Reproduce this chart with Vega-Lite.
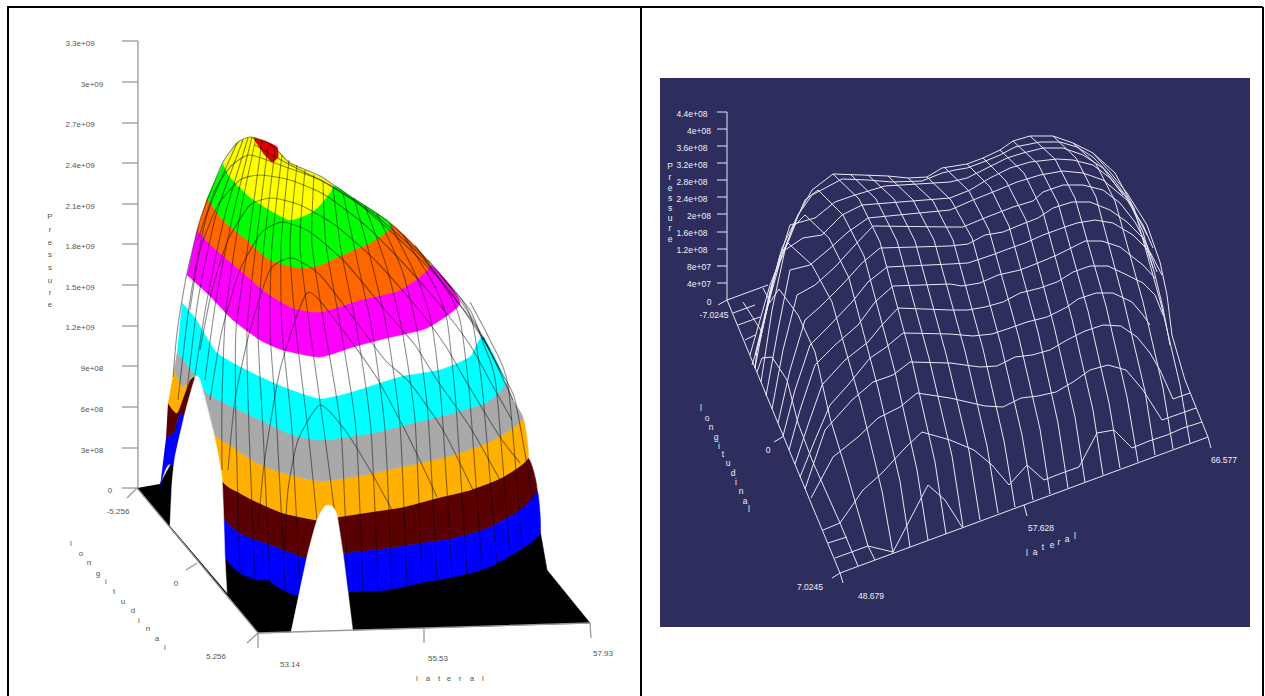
{"$schema":"https://vega.github.io/schema/vega-lite/v6.json","width":1265,"height":696,"padding":0,"autosize":{"type":"none"},"background":"white","config":{"view":{"stroke":null}},
"datasets":{
"panel":[{"h":660,"h2":1250,"v":78,"v2":627}],
"polys":[
{"b":"blue","h":160,"v":487},{"b":"blue","h":172,"v":465},{"b":"blue","h":225,"v":557},{"b":"blue","h":240,"v":573},{"b":"blue","h":257,"v":580},{"b":"blue","h":267,"v":580},{"b":"blue","h":283,"v":590},{"b":"blue","h":298,"v":595},{"b":"blue","h":348,"v":592},{"b":"blue","h":387,"v":590},{"b":"blue","h":420,"v":583},{"b":"blue","h":453,"v":577},{"b":"blue","h":487,"v":568},{"b":"blue","h":520,"v":550},{"b":"blue","h":540,"v":533},{"b":"blue","h":537,"v":490},{"b":"blue","h":520,"v":510},{"b":"blue","h":487,"v":528},{"b":"blue","h":453,"v":538},{"b":"blue","h":420,"v":543},{"b":"blue","h":387,"v":548},{"b":"blue","h":344,"v":553},{"b":"blue","h":305,"v":557},{"b":"blue","h":277,"v":547},{"b":"blue","h":257,"v":540},{"b":"blue","h":240,"v":533},{"b":"blue","h":222,"v":515},{"b":"blue","h":183,"v":415},{"b":"blue","h":174,"v":432},{"b":"blue","h":166,"v":438},
{"b":"maroon","h":166,"v":438},{"b":"maroon","h":174,"v":432},{"b":"maroon","h":183,"v":415},{"b":"maroon","h":222,"v":515},{"b":"maroon","h":240,"v":533},{"b":"maroon","h":257,"v":540},{"b":"maroon","h":277,"v":547},{"b":"maroon","h":305,"v":557},{"b":"maroon","h":344,"v":553},{"b":"maroon","h":387,"v":548},{"b":"maroon","h":420,"v":543},{"b":"maroon","h":453,"v":538},{"b":"maroon","h":487,"v":528},{"b":"maroon","h":520,"v":510},{"b":"maroon","h":537,"v":490},{"b":"maroon","h":528,"v":458},{"b":"maroon","h":503,"v":477},{"b":"maroon","h":470,"v":490},{"b":"maroon","h":437,"v":498},{"b":"maroon","h":403,"v":507},{"b":"maroon","h":370,"v":512},{"b":"maroon","h":338,"v":517},{"b":"maroon","h":317,"v":520},{"b":"maroon","h":283,"v":513},{"b":"maroon","h":257,"v":502},{"b":"maroon","h":240,"v":493},{"b":"maroon","h":220,"v":477},{"b":"maroon","h":195,"v":378},{"b":"maroon","h":186,"v":390},{"b":"maroon","h":177,"v":413},{"b":"maroon","h":168,"v":403},
{"b":"amber","h":168,"v":403},{"b":"amber","h":177,"v":413},{"b":"amber","h":186,"v":390},{"b":"amber","h":195,"v":378},{"b":"amber","h":220,"v":477},{"b":"amber","h":240,"v":493},{"b":"amber","h":257,"v":502},{"b":"amber","h":283,"v":513},{"b":"amber","h":317,"v":520},{"b":"amber","h":338,"v":517},{"b":"amber","h":370,"v":512},{"b":"amber","h":403,"v":507},{"b":"amber","h":437,"v":498},{"b":"amber","h":470,"v":490},{"b":"amber","h":503,"v":477},{"b":"amber","h":528,"v":458},{"b":"amber","h":523,"v":418},{"b":"amber","h":510,"v":430},{"b":"amber","h":487,"v":443},{"b":"amber","h":453,"v":455},{"b":"amber","h":420,"v":463},{"b":"amber","h":387,"v":470},{"b":"amber","h":353,"v":477},{"b":"amber","h":320,"v":481},{"b":"amber","h":283,"v":473},{"b":"amber","h":257,"v":463},{"b":"amber","h":233,"v":447},{"b":"amber","h":213,"v":432},{"b":"amber","h":196,"v":377},{"b":"amber","h":183,"v":387},{"b":"amber","h":174,"v":370},
{"b":"grey","h":174,"v":370},{"b":"grey","h":183,"v":387},{"b":"grey","h":196,"v":377},{"b":"grey","h":213,"v":432},{"b":"grey","h":233,"v":447},{"b":"grey","h":257,"v":463},{"b":"grey","h":283,"v":473},{"b":"grey","h":320,"v":481},{"b":"grey","h":353,"v":477},{"b":"grey","h":387,"v":470},{"b":"grey","h":420,"v":463},{"b":"grey","h":453,"v":455},{"b":"grey","h":487,"v":443},{"b":"grey","h":510,"v":430},{"b":"grey","h":523,"v":418},{"b":"grey","h":513,"v":400},{"b":"grey","h":505,"v":382},{"b":"grey","h":487,"v":402},{"b":"grey","h":453,"v":413},{"b":"grey","h":413,"v":423},{"b":"grey","h":377,"v":432},{"b":"grey","h":347,"v":437},{"b":"grey","h":320,"v":440},{"b":"grey","h":293,"v":435},{"b":"grey","h":267,"v":423},{"b":"grey","h":233,"v":407},{"b":"grey","h":207,"v":393},{"b":"grey","h":197,"v":378},{"b":"grey","h":190,"v":368},{"b":"grey","h":177,"v":352},
{"b":"cyan","h":177,"v":352},{"b":"cyan","h":190,"v":368},{"b":"cyan","h":197,"v":378},{"b":"cyan","h":207,"v":393},{"b":"cyan","h":233,"v":407},{"b":"cyan","h":267,"v":423},{"b":"cyan","h":293,"v":435},{"b":"cyan","h":320,"v":440},{"b":"cyan","h":347,"v":437},{"b":"cyan","h":377,"v":432},{"b":"cyan","h":413,"v":423},{"b":"cyan","h":453,"v":413},{"b":"cyan","h":487,"v":402},{"b":"cyan","h":505,"v":382},{"b":"cyan","h":483,"v":337},{"b":"cyan","h":470,"v":357},{"b":"cyan","h":440,"v":370},{"b":"cyan","h":400,"v":377},{"b":"cyan","h":353,"v":392},{"b":"cyan","h":320,"v":399},{"b":"cyan","h":283,"v":387},{"b":"cyan","h":250,"v":372},{"b":"cyan","h":217,"v":353},{"b":"cyan","h":195,"v":318},{"b":"cyan","h":182,"v":303},
{"b":"magenta","h":187,"v":275},{"b":"magenta","h":207,"v":293},{"b":"magenta","h":233,"v":320},{"b":"magenta","h":260,"v":340},{"b":"magenta","h":283,"v":350},{"b":"magenta","h":320,"v":357},{"b":"magenta","h":353,"v":347},{"b":"magenta","h":387,"v":338},{"b":"magenta","h":427,"v":328},{"b":"magenta","h":460,"v":303},{"b":"magenta","h":430,"v":265},{"b":"magenta","h":400,"v":290},{"b":"magenta","h":360,"v":300},{"b":"magenta","h":320,"v":312},{"b":"magenta","h":293,"v":308},{"b":"magenta","h":267,"v":293},{"b":"magenta","h":240,"v":270},{"b":"magenta","h":213,"v":247},{"b":"magenta","h":197,"v":230},
{"b":"dorange","h":197,"v":230},{"b":"dorange","h":213,"v":247},{"b":"dorange","h":240,"v":270},{"b":"dorange","h":267,"v":293},{"b":"dorange","h":293,"v":308},{"b":"dorange","h":320,"v":312},{"b":"dorange","h":360,"v":300},{"b":"dorange","h":400,"v":290},{"b":"dorange","h":430,"v":265},{"b":"dorange","h":392,"v":225},{"b":"dorange","h":370,"v":243},{"b":"dorange","h":353,"v":250},{"b":"dorange","h":320,"v":265},{"b":"dorange","h":300,"v":268},{"b":"dorange","h":270,"v":260},{"b":"dorange","h":247,"v":240},{"b":"dorange","h":223,"v":220},{"b":"dorange","h":207,"v":198},
{"b":"green","h":207,"v":198},{"b":"green","h":223,"v":220},{"b":"green","h":247,"v":240},{"b":"green","h":270,"v":260},{"b":"green","h":300,"v":268},{"b":"green","h":320,"v":265},{"b":"green","h":353,"v":250},{"b":"green","h":370,"v":243},{"b":"green","h":392,"v":225},{"b":"green","h":353,"v":198},{"b":"green","h":333,"v":186},{"b":"green","h":320,"v":205},{"b":"green","h":310,"v":213},{"b":"green","h":290,"v":220},{"b":"green","h":270,"v":210},{"b":"green","h":250,"v":197},{"b":"green","h":230,"v":177},{"b":"green","h":223,"v":163},
{"b":"yellow","h":223,"v":163},{"b":"yellow","h":230,"v":177},{"b":"yellow","h":250,"v":197},{"b":"yellow","h":270,"v":210},{"b":"yellow","h":290,"v":220},{"b":"yellow","h":310,"v":213},{"b":"yellow","h":320,"v":205},{"b":"yellow","h":333,"v":187},{"b":"yellow","h":320,"v":177},{"b":"yellow","h":290,"v":163},{"b":"yellow","h":280,"v":153},{"b":"yellow","h":267,"v":142},{"b":"yellow","h":250,"v":137},{"b":"yellow","h":237,"v":143},
{"b":"red","h":253,"v":138},{"b":"red","h":267,"v":142},{"b":"red","h":277,"v":147},{"b":"red","h":278,"v":157},{"b":"red","h":272,"v":162},{"b":"red","h":263,"v":153}
],
"baseBlack":[
{"b":"black","h":137,"v":488},{"b":"black","h":258,"v":633},{"b":"black","h":590,"v":623},{"b":"black","h":547,"v":570},{"b":"black","h":540,"v":530},{"b":"black","h":520,"v":547},{"b":"black","h":487,"v":565},{"b":"black","h":453,"v":574},{"b":"black","h":420,"v":580},{"b":"black","h":387,"v":587},{"b":"black","h":348,"v":589},{"b":"black","h":298,"v":592},{"b":"black","h":283,"v":587},{"b":"black","h":267,"v":577},{"b":"black","h":257,"v":577},{"b":"black","h":240,"v":570},{"b":"black","h":225,"v":554},{"b":"black","h":172,"v":462},{"b":"black","h":160,"v":484}
],
"gaps":[
{"b":"g1","h":170,"v":526},{"b":"g1","h":172,"v":483},{"b":"g1","h":175,"v":457},{"b":"g1","h":185,"v":413},{"b":"g1","h":195,"v":378},{"b":"g1","h":200,"v":380},{"b":"g1","h":213,"v":430},{"b":"g1","h":222,"v":478},{"b":"g1","h":225,"v":557},{"b":"g1","h":227,"v":593},
{"b":"g2","h":291,"v":633},{"b":"g2","h":307,"v":557},{"b":"g2","h":317,"v":520},{"b":"g2","h":325,"v":506},{"b":"g2","h":332,"v":506},{"b":"g2","h":337,"v":515},{"b":"g2","h":343,"v":553},{"b":"g2","h":348,"v":592},{"b":"g2","h":353,"v":632}
],
"wiresL":[
{"w":"s1","h":178,"v":400},{"w":"s1","h":190,"v":300},{"w":"s1","h":207,"v":215},{"w":"s1","h":237,"v":143},
{"w":"s2","h":186,"v":400},{"w":"s2","h":198,"v":300},{"w":"s2","h":216,"v":215},{"w":"s2","h":243,"v":140},
{"w":"s3","h":195,"v":375},{"w":"s3","h":207,"v":300},{"w":"s3","h":225,"v":215},{"w":"s3","h":248,"v":138},
{"w":"s4","h":205,"v":380},{"w":"s4","h":216,"v":300},{"w":"s4","h":233,"v":215},{"w":"s4","h":252,"v":137},
{"w":"s5","h":222,"v":470},{"w":"s5","h":222,"v":400},{"w":"s5","h":226,"v":310},{"w":"s5","h":240,"v":215},{"w":"s5","h":256,"v":138},
{"w":"s6","h":240,"v":573},{"w":"s6","h":236,"v":430},{"w":"s6","h":236,"v":330},{"w":"s6","h":248,"v":245},{"w":"s6","h":262,"v":140},
{"w":"s7","h":255,"v":580},{"w":"s7","h":249,"v":430},{"w":"s7","h":247,"v":330},{"w":"s7","h":256,"v":245},{"w":"s7","h":268,"v":145},
{"w":"s8","h":270,"v":583},{"w":"s8","h":263,"v":430},{"w":"s8","h":258,"v":330},{"w":"s8","h":264,"v":245},{"w":"s8","h":275,"v":150},
{"w":"s9","h":285,"v":590},{"w":"s9","h":277,"v":430},{"w":"s9","h":270,"v":330},{"w":"s9","h":272,"v":245},{"w":"s9","h":282,"v":155},
{"w":"s10","h":300,"v":595},{"w":"s10","h":292,"v":430},{"w":"s10","h":282,"v":330},{"w":"s10","h":281,"v":245},{"w":"s10","h":289,"v":160},
{"w":"s11","h":317,"v":520},{"w":"s11","h":308,"v":430},{"w":"s11","h":296,"v":330},{"w":"s11","h":290,"v":245},{"w":"s11","h":297,"v":165},
{"w":"s12","h":335,"v":515},{"w":"s12","h":324,"v":430},{"w":"s12","h":310,"v":330},{"w":"s12","h":300,"v":245},{"w":"s12","h":305,"v":170},
{"w":"s13","h":348,"v":592},{"w":"s13","h":341,"v":430},{"w":"s13","h":325,"v":330},{"w":"s13","h":312,"v":245},{"w":"s13","h":314,"v":175},
{"w":"s14","h":363,"v":591},{"w":"s14","h":356,"v":430},{"w":"s14","h":341,"v":330},{"w":"s14","h":326,"v":245},{"w":"s14","h":323,"v":182},
{"w":"s15","h":378,"v":590},{"w":"s15","h":371,"v":430},{"w":"s15","h":357,"v":330},{"w":"s15","h":341,"v":250},{"w":"s15","h":333,"v":188},
{"w":"s16","h":392,"v":589},{"w":"s16","h":385,"v":430},{"w":"s16","h":372,"v":330},{"w":"s16","h":356,"v":255},{"w":"s16","h":343,"v":193},
{"w":"s17","h":407,"v":586},{"w":"s17","h":400,"v":425},{"w":"s17","h":387,"v":330},{"w":"s17","h":371,"v":260},{"w":"s17","h":354,"v":198},
{"w":"s18","h":422,"v":583},{"w":"s18","h":415,"v":420},{"w":"s18","h":402,"v":330},{"w":"s18","h":386,"v":265},{"w":"s18","h":365,"v":206},
{"w":"s19","h":437,"v":580},{"w":"s19","h":428,"v":415},{"w":"s19","h":417,"v":330},{"w":"s19","h":402,"v":270},{"w":"s19","h":377,"v":214},
{"w":"s20","h":452,"v":577},{"w":"s20","h":442,"v":410},{"w":"s20","h":432,"v":325},{"w":"s20","h":418,"v":280},{"w":"s20","h":390,"v":224},
{"w":"s21","h":467,"v":574},{"w":"s21","h":456,"v":405},{"w":"s21","h":447,"v":320},{"w":"s21","h":434,"v":285},{"w":"s21","h":403,"v":235},
{"w":"s22","h":482,"v":570},{"w":"s22","h":470,"v":400},{"w":"s22","h":461,"v":325},{"w":"s22","h":450,"v":295},{"w":"s22","h":415,"v":245},
{"w":"s23","h":497,"v":565},{"w":"s23","h":483,"v":395},{"w":"s23","h":473,"v":325},{"w":"s23","h":462,"v":300},{"w":"s23","h":428,"v":260},
{"w":"s24","h":510,"v":558},{"w":"s24","h":496,"v":385},{"w":"s24","h":484,"v":345},{"w":"s24","h":470,"v":310},{"w":"s24","h":440,"v":275},
{"w":"s25","h":522,"v":548},{"w":"s25","h":508,"v":385},{"w":"s25","h":490,"v":340},{"w":"s25","h":470,"v":302},
{"w":"s26","h":533,"v":500},{"w":"s26","h":515,"v":400},{"w":"s26","h":500,"v":370},{"w":"s26","h":483,"v":337},
{"w":"a1","h":284,"v":555},{"w":"a1","h":288,"v":490},{"w":"a1","h":298,"v":440},{"w":"a1","h":320,"v":405},{"w":"a1","h":345,"v":430},{"w":"a1","h":370,"v":470},{"w":"a1","h":392,"v":510},
{"w":"a2","h":258,"v":530},{"w":"a2","h":264,"v":465},{"w":"a2","h":280,"v":370},{"w":"a2","h":307,"v":293},{"w":"a2","h":335,"v":320},{"w":"a2","h":375,"v":375},{"w":"a2","h":410,"v":440},{"w":"a2","h":437,"v":497},
{"w":"a3","h":228,"v":470},{"w":"a3","h":235,"v":400},{"w":"a3","h":250,"v":330},{"w":"a3","h":270,"v":270},{"w":"a3","h":292,"v":258},{"w":"a3","h":320,"v":275},{"w":"a3","h":355,"v":320},{"w":"a3","h":385,"v":360},{"w":"a3","h":410,"v":383},{"w":"a3","h":443,"v":430},{"w":"a3","h":473,"v":490},
{"w":"a4","h":210,"v":400},{"w":"a4","h":222,"v":330},{"w":"a4","h":240,"v":270},{"w":"a4","h":262,"v":232},{"w":"a4","h":283,"v":222},{"w":"a4","h":310,"v":232},{"w":"a4","h":345,"v":262},{"w":"a4","h":385,"v":310},{"w":"a4","h":415,"v":345},{"w":"a4","h":437,"v":380},{"w":"a4","h":470,"v":427},{"w":"a4","h":500,"v":480},
{"w":"a5","h":200,"v":350},{"w":"a5","h":212,"v":290},{"w":"a5","h":228,"v":240},{"w":"a5","h":250,"v":205},{"w":"a5","h":272,"v":198},{"w":"a5","h":300,"v":205},{"w":"a5","h":335,"v":225},{"w":"a5","h":375,"v":260},{"w":"a5","h":415,"v":305},{"w":"a5","h":445,"v":345},{"w":"a5","h":467,"v":383},{"w":"a5","h":500,"v":437},{"w":"a5","h":520,"v":463},
{"w":"a6","h":190,"v":310},{"w":"a6","h":200,"v":250},{"w":"a6","h":218,"v":205},{"w":"a6","h":240,"v":180},{"w":"a6","h":260,"v":175},{"w":"a6","h":290,"v":180},{"w":"a6","h":325,"v":195},{"w":"a6","h":365,"v":225},{"w":"a6","h":405,"v":265},{"w":"a6","h":440,"v":305},{"w":"a6","h":470,"v":345},{"w":"a6","h":495,"v":390},{"w":"a6","h":512,"v":420},
{"w":"a7","h":198,"v":240},{"w":"a7","h":215,"v":190},{"w":"a7","h":232,"v":165},{"w":"a7","h":250,"v":155},{"w":"a7","h":280,"v":165},{"w":"a7","h":320,"v":180},{"w":"a7","h":360,"v":205},{"w":"a7","h":400,"v":240},{"w":"a7","h":440,"v":280},{"w":"a7","h":475,"v":325},{"w":"a7","h":500,"v":370},
{"w":"a8","h":255,"v":145},{"w":"a8","h":290,"v":165},{"w":"a8","h":330,"v":185},{"w":"a8","h":375,"v":215},{"w":"a8","h":420,"v":255},{"w":"a8","h":460,"v":305},{"w":"a8","h":490,"v":350},
{"w":"sil","h":513,"v":400},{"w":"sil","h":483,"v":337},{"w":"sil","h":460,"v":300},{"w":"sil","h":430,"v":263},{"w":"sil","h":390,"v":223},{"w":"sil","h":353,"v":198},{"w":"sil","h":320,"v":176},{"w":"sil","h":290,"v":163},{"w":"sil","h":280,"v":153},{"w":"sil","h":267,"v":142},{"w":"sil","h":250,"v":137},{"w":"sil","h":237,"v":143},{"w":"sil","h":223,"v":162},{"w":"sil","h":210,"v":193},{"w":"sil","h":200,"v":220},{"w":"sil","h":190,"v":260},{"w":"sil","h":185,"v":283},{"w":"sil","h":177,"v":333},{"w":"sil","h":173,"v":377}
],
"wiresR":[
{"w":"r1","h":833,"v":174},{"w":"r1","h":862,"v":175},{"w":"r1","h":888,"v":176},{"w":"r1","h":908,"v":178},{"w":"r1","h":927,"v":177},{"w":"r1","h":942,"v":168},{"w":"r1","h":967,"v":164},{"w":"r1","h":983,"v":158},{"w":"r1","h":1000,"v":150},{"w":"r1","h":1013,"v":141},{"w":"r1","h":1030,"v":136},{"w":"r1","h":1053,"v":136},{"w":"r1","h":1073,"v":143},{"w":"r1","h":1093,"v":153},{"w":"r1","h":1110,"v":172},
{"w":"r2","h":750,"v":355},{"w":"r2","h":770,"v":285},{"w":"r2","h":798,"v":215},{"w":"r2","h":812,"v":195},{"w":"r2","h":842,"v":179},{"w":"r2","h":868,"v":180},{"w":"r2","h":892,"v":182},{"w":"r2","h":922,"v":181},{"w":"r2","h":942,"v":173},{"w":"r2","h":955,"v":170},{"w":"r2","h":967,"v":168},{"w":"r2","h":983,"v":162},{"w":"r2","h":1000,"v":155},{"w":"r2","h":1015,"v":147},{"w":"r2","h":1040,"v":142},{"w":"r2","h":1060,"v":142},{"w":"r2","h":1077,"v":147},{"w":"r2","h":1093,"v":157},{"w":"r2","h":1110,"v":175},{"w":"r2","h":1127,"v":197},{"w":"r2","h":1143,"v":232},{"w":"r2","h":1155,"v":275},{"w":"r2","h":1163,"v":308},{"w":"r2","h":1170,"v":345},
{"w":"r3","h":755,"v":368},{"w":"r3","h":770,"v":290},{"w":"r3","h":790,"v":225},{"w":"r3","h":815,"v":218},{"w":"r3","h":835,"v":202},{"w":"r3","h":855,"v":195},{"w":"r3","h":885,"v":186},{"w":"r3","h":950,"v":182},{"w":"r3","h":967,"v":178},{"w":"r3","h":987,"v":168},{"w":"r3","h":1007,"v":158},{"w":"r3","h":1023,"v":153},{"w":"r3","h":1043,"v":148},{"w":"r3","h":1063,"v":148},{"w":"r3","h":1083,"v":155},{"w":"r3","h":1103,"v":168},{"w":"r3","h":1123,"v":195},
{"w":"r4","h":761,"v":382},{"w":"r4","h":772,"v":310},{"w":"r4","h":785,"v":250},{"w":"r4","h":803,"v":238},{"w":"r4","h":822,"v":235},{"w":"r4","h":842,"v":215},{"w":"r4","h":862,"v":205},{"w":"r4","h":950,"v":198},{"w":"r4","h":970,"v":190},{"w":"r4","h":990,"v":178},{"w":"r4","h":1010,"v":168},{"w":"r4","h":1030,"v":162},{"w":"r4","h":1057,"v":159},{"w":"r4","h":1073,"v":160},{"w":"r4","h":1093,"v":165},{"w":"r4","h":1110,"v":178},{"w":"r4","h":1130,"v":202},{"w":"r4","h":1147,"v":235},
{"w":"r5","h":766,"v":396},{"w":"r5","h":778,"v":330},{"w":"r5","h":790,"v":270},{"w":"r5","h":810,"v":265},{"w":"r5","h":828,"v":250},{"w":"r5","h":848,"v":232},{"w":"r5","h":868,"v":218},{"w":"r5","h":950,"v":210},{"w":"r5","h":973,"v":200},{"w":"r5","h":993,"v":192},{"w":"r5","h":1017,"v":182},{"w":"r5","h":1040,"v":175},{"w":"r5","h":1063,"v":171},{"w":"r5","h":1083,"v":173},{"w":"r5","h":1103,"v":180},{"w":"r5","h":1127,"v":200},{"w":"r5","h":1143,"v":225},{"w":"r5","h":1153,"v":248},
{"w":"r6","h":772,"v":409},{"w":"r6","h":783,"v":350},{"w":"r6","h":797,"v":295},{"w":"r6","h":815,"v":285},{"w":"r6","h":835,"v":267},{"w":"r6","h":855,"v":245},{"w":"r6","h":873,"v":226},{"w":"r6","h":950,"v":227},{"w":"r6","h":963,"v":227},{"w":"r6","h":987,"v":217},{"w":"r6","h":1013,"v":207},{"w":"r6","h":1033,"v":201},{"w":"r6","h":1043,"v":192},{"w":"r6","h":1063,"v":185},{"w":"r6","h":1083,"v":185},{"w":"r6","h":1103,"v":190},{"w":"r6","h":1120,"v":203},{"w":"r6","h":1135,"v":222},{"w":"r6","h":1147,"v":245},{"w":"r6","h":1157,"v":272},
{"w":"r7","h":778,"v":423},{"w":"r7","h":790,"v":370},{"w":"r7","h":805,"v":320},{"w":"r7","h":822,"v":305},{"w":"r7","h":842,"v":285},{"w":"r7","h":862,"v":263},{"w":"r7","h":880,"v":248},{"w":"r7","h":950,"v":246},{"w":"r7","h":968,"v":244},{"w":"r7","h":985,"v":235},{"w":"r7","h":1003,"v":232},{"w":"r7","h":1020,"v":225},{"w":"r7","h":1038,"v":218},{"w":"r7","h":1053,"v":208},{"w":"r7","h":1072,"v":202},{"w":"r7","h":1090,"v":202},{"w":"r7","h":1110,"v":210},{"w":"r7","h":1127,"v":222},{"w":"r7","h":1143,"v":238},{"w":"r7","h":1153,"v":268},
{"w":"r8","h":783,"v":436},{"w":"r8","h":795,"v":390},{"w":"r8","h":810,"v":345},{"w":"r8","h":830,"v":325},{"w":"r8","h":852,"v":302},{"w":"r8","h":868,"v":282},{"w":"r8","h":887,"v":267},{"w":"r8","h":950,"v":264},{"w":"r8","h":968,"v":263},{"w":"r8","h":992,"v":255},{"w":"r8","h":1008,"v":249},{"w":"r8","h":1025,"v":243},{"w":"r8","h":1043,"v":235},{"w":"r8","h":1065,"v":227},{"w":"r8","h":1077,"v":223},{"w":"r8","h":1095,"v":220},{"w":"r8","h":1113,"v":223},{"w":"r8","h":1133,"v":235},{"w":"r8","h":1150,"v":252},{"w":"r8","h":1162,"v":275},
{"w":"r9","h":789,"v":450},{"w":"r9","h":800,"v":410},{"w":"r9","h":815,"v":365},{"w":"r9","h":835,"v":345},{"w":"r9","h":858,"v":325},{"w":"r9","h":875,"v":302},{"w":"r9","h":893,"v":286},{"w":"r9","h":950,"v":284},{"w":"r9","h":962,"v":286},{"w":"r9","h":980,"v":283},{"w":"r9","h":998,"v":275},{"w":"r9","h":1020,"v":270},{"w":"r9","h":1038,"v":263},{"w":"r9","h":1057,"v":255},{"w":"r9","h":1073,"v":247},{"w":"r9","h":1085,"v":241},{"w":"r9","h":1102,"v":241},{"w":"r9","h":1120,"v":247},{"w":"r9","h":1143,"v":265},{"w":"r9","h":1155,"v":278},
{"w":"r10","h":795,"v":464},{"w":"r10","h":808,"v":425},{"w":"r10","h":822,"v":385},{"w":"r10","h":845,"v":360},{"w":"r10","h":868,"v":342},{"w":"r10","h":882,"v":325},{"w":"r10","h":898,"v":308},{"w":"r10","h":950,"v":310},{"w":"r10","h":968,"v":310},{"w":"r10","h":985,"v":307},{"w":"r10","h":1003,"v":302},{"w":"r10","h":1020,"v":293},{"w":"r10","h":1040,"v":288},{"w":"r10","h":1057,"v":282},{"w":"r10","h":1073,"v":272},{"w":"r10","h":1090,"v":266},{"w":"r10","h":1108,"v":266},{"w":"r10","h":1127,"v":275},{"w":"r10","h":1143,"v":283},{"w":"r10","h":1155,"v":295},{"w":"r10","h":1163,"v":315},
{"w":"r11","h":800,"v":477},{"w":"r11","h":815,"v":440},{"w":"r11","h":830,"v":405},{"w":"r11","h":848,"v":385},{"w":"r11","h":870,"v":358},{"w":"r11","h":885,"v":348},{"w":"r11","h":903,"v":333},{"w":"r11","h":950,"v":334},{"w":"r11","h":973,"v":336},{"w":"r11","h":992,"v":334},{"w":"r11","h":1010,"v":328},{"w":"r11","h":1027,"v":322},{"w":"r11","h":1047,"v":317},{"w":"r11","h":1067,"v":307},{"w":"r11","h":1078,"v":299},{"w":"r11","h":1096,"v":293},{"w":"r11","h":1113,"v":293},{"w":"r11","h":1132,"v":302},{"w":"r11","h":1143,"v":315},{"w":"r11","h":1150,"v":325},
{"w":"r12","h":805,"v":489},{"w":"r12","h":825,"v":430},{"w":"r12","h":852,"v":400},{"w":"r12","h":873,"v":382},{"w":"r12","h":893,"v":375},{"w":"r12","h":910,"v":362},{"w":"r12","h":950,"v":363},{"w":"r12","h":980,"v":367},{"w":"r12","h":997,"v":366},{"w":"r12","h":1015,"v":357},{"w":"r12","h":1032,"v":355},{"w":"r12","h":1050,"v":350},{"w":"r12","h":1067,"v":340},{"w":"r12","h":1085,"v":331},{"w":"r12","h":1103,"v":325},{"w":"r12","h":1121,"v":326},{"w":"r12","h":1137,"v":337},{"w":"r12","h":1150,"v":353},{"w":"r12","h":1160,"v":370},{"w":"r12","h":1173,"v":399},{"w":"r12","h":1190,"v":393},
{"w":"r13","h":811,"v":498},{"w":"r13","h":833,"v":457},{"w":"r13","h":858,"v":437},{"w":"r13","h":878,"v":418},{"w":"r13","h":900,"v":407},{"w":"r13","h":917,"v":393},{"w":"r13","h":950,"v":398},{"w":"r13","h":985,"v":406},{"w":"r13","h":1003,"v":407},{"w":"r13","h":1021,"v":398},{"w":"r13","h":1038,"v":396},{"w":"r13","h":1056,"v":392},{"w":"r13","h":1073,"v":382},{"w":"r13","h":1090,"v":370},{"w":"r13","h":1108,"v":365},{"w":"r13","h":1126,"v":370},{"w":"r13","h":1143,"v":390},{"w":"r13","h":1162,"v":420},{"w":"r13","h":1196,"v":408},
{"w":"r14","h":823,"v":530},{"w":"r14","h":840,"v":523},{"w":"r14","h":863,"v":490},{"w":"r14","h":882,"v":473},{"w":"r14","h":905,"v":448},{"w":"r14","h":922,"v":432},{"w":"r14","h":950,"v":440},{"w":"r14","h":974,"v":450},{"w":"r14","h":992,"v":465},{"w":"r14","h":1009,"v":485},{"w":"r14","h":1027,"v":465},{"w":"r14","h":1044,"v":480},{"w":"r14","h":1062,"v":473},{"w":"r14","h":1079,"v":467},{"w":"r14","h":1097,"v":433},{"w":"r14","h":1114,"v":430},{"w":"r14","h":1132,"v":448},{"w":"r14","h":1149,"v":441},{"w":"r14","h":1167,"v":435},{"w":"r14","h":1183,"v":428},{"w":"r14","h":1202,"v":422},
{"w":"r15","h":828,"v":543},{"w":"r15","h":847,"v":537},
{"w":"r16","h":835,"v":558},{"w":"r16","h":868,"v":546},{"w":"r16","h":893,"v":552},{"w":"r16","h":928,"v":485},{"w":"r16","h":945,"v":500},{"w":"r16","h":962,"v":527},
{"w":"base","h":840,"v":573},{"w":"base","h":1208,"v":437},
{"w":"edge","h":727,"v":300},{"w":"edge","h":840,"v":573},{"w":"edge","h":843,"v":583},
{"w":"c0","h":840,"v":523},{"w":"c0","h":858,"v":566},
{"w":"c1","h":840,"v":523},{"w":"c1","h":812,"v":460},{"w":"c1","h":798,"v":423},{"w":"c1","h":787,"v":380},{"w":"c1","h":772,"v":357},{"w":"c1","h":762,"v":358},{"w":"c1","h":757,"v":372},
{"w":"c2","h":875,"v":560},{"w":"c2","h":868,"v":546},{"w":"c2","h":846,"v":470},{"w":"c2","h":830,"v":418},{"w":"c2","h":815,"v":352},{"w":"c2","h":798,"v":315},{"w":"c2","h":779,"v":289},{"w":"c2","h":768,"v":305},{"w":"c2","h":757,"v":350},{"w":"c2","h":755,"v":368},
{"w":"c3","h":893,"v":553},{"w":"c3","h":882,"v":491},{"w":"c3","h":861,"v":404},{"w":"c3","h":832,"v":302},{"w":"c3","h":812,"v":265},{"w":"c3","h":788,"v":243},{"w":"c3","h":780,"v":255},{"w":"c3","h":770,"v":295},{"w":"c3","h":760,"v":340},{"w":"c3","h":752,"v":365},
{"w":"c4","h":910,"v":547},{"w":"c4","h":900,"v":481},{"w":"c4","h":878,"v":388},{"w":"c4","h":849,"v":278},{"w":"c4","h":829,"v":238},{"w":"c4","h":805,"v":215},{"w":"c4","h":795,"v":225},{"w":"c4","h":780,"v":262},{"w":"c4","h":768,"v":305},{"w":"c4","h":757,"v":350},
{"w":"c5","h":928,"v":540},{"w":"c5","h":917,"v":470},{"w":"c5","h":895,"v":372},{"w":"c5","h":864,"v":256},{"w":"c5","h":843,"v":215},{"w":"c5","h":818,"v":190},{"w":"c5","h":805,"v":200},{"w":"c5","h":790,"v":235},{"w":"c5","h":775,"v":275},{"w":"c5","h":760,"v":340},
{"w":"c6","h":946,"v":534},{"w":"c6","h":935,"v":462},{"w":"c6","h":912,"v":361},{"w":"c6","h":880,"v":242},{"w":"c6","h":859,"v":199},{"w":"c6","h":833,"v":174},{"w":"c6","h":812,"v":190},{"w":"c6","h":798,"v":215},{"w":"c6","h":782,"v":248},{"w":"c6","h":772,"v":285},{"w":"c6","h":755,"v":355},
{"w":"c7","h":963,"v":527},{"w":"c7","h":952,"v":456},{"w":"c7","h":929,"v":358},{"w":"c7","h":897,"v":241},{"w":"c7","h":876,"v":199},{"w":"c7","h":850,"v":174},
{"w":"c8","h":980,"v":520},{"w":"c8","h":969,"v":451},{"w":"c8","h":946,"v":354},{"w":"c8","h":915,"v":241},{"w":"c8","h":894,"v":199},{"w":"c8","h":868,"v":175},
{"w":"c9","h":998,"v":513},{"w":"c9","h":987,"v":446},{"w":"c9","h":965,"v":351},{"w":"c9","h":934,"v":240},{"w":"c9","h":913,"v":200},{"w":"c9","h":888,"v":176},
{"w":"c10","h":1015,"v":507},{"w":"c10","h":1004,"v":441},{"w":"c10","h":983,"v":349},{"w":"c10","h":953,"v":240},{"w":"c10","h":933,"v":201},{"w":"c10","h":908,"v":178},
{"w":"c11","h":1033,"v":500},{"w":"c11","h":1022,"v":435},{"w":"c11","h":1001,"v":345},{"w":"c11","h":972,"v":238},{"w":"c11","h":951,"v":200},{"w":"c11","h":927,"v":177},
{"w":"c12","h":1050,"v":494},{"w":"c12","h":1040,"v":429},{"w":"c12","h":1019,"v":338},{"w":"c12","h":989,"v":230},{"w":"c12","h":969,"v":191},{"w":"c12","h":945,"v":168},
{"w":"c13","h":1068,"v":488},{"w":"c13","h":1058,"v":423},{"w":"c13","h":1038,"v":332},{"w":"c13","h":1009,"v":226},{"w":"c13","h":990,"v":187},{"w":"c13","h":967,"v":164},
{"w":"c14","h":1085,"v":482},{"w":"c14","h":1075,"v":417},{"w":"c14","h":1054,"v":326},{"w":"c14","h":1026,"v":220},{"w":"c14","h":1006,"v":181},{"w":"c14","h":983,"v":158},
{"w":"c15","h":1103,"v":475},{"w":"c15","h":1093,"v":410},{"w":"c15","h":1072,"v":319},{"w":"c15","h":1043,"v":212},{"w":"c15","h":1024,"v":173},{"w":"c15","h":1000,"v":150},
{"w":"c16","h":1120,"v":468},{"w":"c16","h":1109,"v":403},{"w":"c16","h":1088,"v":311},{"w":"c16","h":1058,"v":203},{"w":"c16","h":1038,"v":164},{"w":"c16","h":1013,"v":141},
{"w":"c17","h":1138,"v":462},{"w":"c17","h":1127,"v":397},{"w":"c17","h":1106,"v":306},{"w":"c17","h":1075,"v":198},{"w":"c17","h":1055,"v":159},{"w":"c17","h":1030,"v":136},
{"w":"c18","h":1155,"v":455},{"w":"c18","h":1145,"v":391},{"w":"c18","h":1124,"v":302},{"w":"c18","h":1096,"v":197},{"w":"c18","h":1076,"v":158},{"w":"c18","h":1053,"v":136},
{"w":"c19","h":1173,"v":449},{"w":"c19","h":1163,"v":388},{"w":"c19","h":1143,"v":302},{"w":"c19","h":1115,"v":201},{"w":"c19","h":1096,"v":164},{"w":"c19","h":1073,"v":143},
{"w":"c20","h":1190,"v":443},{"w":"c20","h":1180,"v":385},{"w":"c20","h":1161,"v":304},{"w":"c20","h":1134,"v":208},{"w":"c20","h":1115,"v":173},{"w":"c20","h":1093,"v":153},
{"w":"c21","h":1208,"v":437},{"w":"c21","h":1185,"v":380},{"w":"c21","h":1172,"v":335},{"w":"c21","h":1167,"v":295},{"w":"c21","h":1160,"v":262},{"w":"c21","h":1147,"v":225},{"w":"c21","h":1127,"v":193},{"w":"c21","h":1110,"v":172},
{"w":"far0","h":727,"v":300},{"w":"far0","h":768,"v":285},
{"w":"far1","h":733,"v":313},{"w":"far1","h":755,"v":305},
{"w":"far2","h":738,"v":325},{"w":"far2","h":760,"v":317},
{"w":"far3","h":745,"v":340},{"w":"far3","h":755,"v":335},
{"w":"far4","h":743,"v":302},{"w":"far4","h":762,"v":332},
{"w":"far5","h":763,"v":288},{"w":"far5","h":770,"v":302},
{"w":"axz","h":727,"v":112},{"w":"axz","h":727,"v":300},
{"w":"t1","h":717,"v":112},{"w":"t1","h":727,"v":112},{"w":"t2","h":717,"v":129},{"w":"t2","h":727,"v":129},{"w":"t3","h":717,"v":146},{"w":"t3","h":727,"v":146},{"w":"t4","h":717,"v":163},{"w":"t4","h":727,"v":163},{"w":"t5","h":717,"v":180},{"w":"t5","h":727,"v":180},{"w":"t6","h":717,"v":197},{"w":"t6","h":727,"v":197},{"w":"t7","h":717,"v":214},{"w":"t7","h":727,"v":214},{"w":"t8","h":717,"v":232},{"w":"t8","h":727,"v":232},{"w":"t9","h":717,"v":249},{"w":"t9","h":727,"v":249},{"w":"t10","h":717,"v":266},{"w":"t10","h":727,"v":266},{"w":"t11","h":717,"v":283},{"w":"t11","h":727,"v":283},{"w":"t12","h":718,"v":305},{"w":"t12","h":727,"v":300},
{"w":"t13","h":774,"v":442},{"w":"t13","h":784,"v":436},{"w":"t14","h":832,"v":578},{"w":"t14","h":840,"v":573},{"w":"t15","h":1024,"v":505},{"w":"t15","h":1027,"v":516},{"w":"t16","h":1208,"v":437},{"w":"t16","h":1211,"v":448}
],
"axesL":[
{"w":"z","h":138,"v":41},{"w":"z","h":138,"v":488},
{"w":"f","h":137,"v":488},{"w":"f","h":258,"v":633},{"w":"f","h":258,"v":648},
{"w":"b","h":258,"v":633},{"w":"b","h":590,"v":623},{"w":"b","h":591,"v":638},
{"w":"q1","h":122,"v":41},{"w":"q1","h":138,"v":41},{"w":"q2","h":122,"v":82},{"w":"q2","h":138,"v":82},{"w":"q3","h":122,"v":123},{"w":"q3","h":138,"v":123},{"w":"q4","h":122,"v":163},{"w":"q4","h":138,"v":163},{"w":"q5","h":122,"v":204},{"w":"q5","h":138,"v":204},{"w":"q6","h":122,"v":244},{"w":"q6","h":138,"v":244},{"w":"q7","h":122,"v":285},{"w":"q7","h":138,"v":285},{"w":"q8","h":122,"v":326},{"w":"q8","h":138,"v":326},{"w":"q9","h":122,"v":366},{"w":"q9","h":138,"v":366},{"w":"q10","h":122,"v":407},{"w":"q10","h":138,"v":407},{"w":"q11","h":122,"v":448},{"w":"q11","h":138,"v":448},{"w":"q12","h":122,"v":488},{"w":"q12","h":138,"v":488},
{"w":"q13","h":127,"v":498},{"w":"q13","h":137,"v":488},{"w":"q14","h":186,"v":570},{"w":"q14","h":197,"v":563},{"w":"q15","h":247,"v":643},{"w":"q15","h":258,"v":633},{"w":"q16","h":424,"v":628},{"w":"q16","h":424,"v":643}
],
"frame":[
{"w":"top","h":7,"v":7},{"w":"top","h":1263,"v":7},
{"w":"l","h":8,"v":7},{"w":"l","h":8,"v":696},
{"w":"m","h":641,"v":7},{"w":"m","h":641,"v":696},
{"w":"r","h":1263,"v":7},{"w":"r","h":1263,"v":696}
],
"textL":[
{"t":"3.3e+09","h":80,"v":44},{"t":"3e+09","h":92,"v":85},{"t":"2.7e+09","h":80,"v":125},{"t":"2.4e+09","h":80,"v":166},{"t":"2.1e+09","h":80,"v":207},{"t":"1.8e+09","h":80,"v":247},{"t":"1.5e+09","h":80,"v":288},{"t":"1.2e+09","h":80,"v":328},{"t":"9e+08","h":92,"v":369},{"t":"6e+08","h":92,"v":410},{"t":"3e+08","h":92,"v":451},{"t":"0","h":110,"v":491},
{"t":"-5.256","h":118,"v":512},{"t":"0","h":176,"v":584},{"t":"5.256","h":216,"v":657},{"t":"53.14","h":290,"v":665},{"t":"55.53","h":438,"v":659},{"t":"57.93","h":603,"v":654},
{"t":"P","h":50,"v":217},{"t":"r","h":50,"v":230},{"t":"e","h":50,"v":243},{"t":"s","h":50,"v":255},{"t":"s","h":50,"v":268},{"t":"u","h":50,"v":281},{"t":"r","h":50,"v":293},{"t":"e","h":50,"v":305},
{"t":"l","h":71,"v":544},{"t":"o","h":81,"v":554},{"t":"n","h":89,"v":563},{"t":"g","h":98,"v":574},{"t":"i","h":106,"v":582},{"t":"t","h":114,"v":592},{"t":"u","h":123,"v":602},{"t":"d","h":133,"v":611},{"t":"i","h":139,"v":621},{"t":"n","h":148,"v":629},{"t":"a","h":157,"v":639},{"t":"l","h":165,"v":648},
{"t":"l","h":417,"v":679},{"t":"a","h":428,"v":679},{"t":"t","h":439,"v":679},{"t":"e","h":449,"v":679},{"t":"r","h":460,"v":679},{"t":"a","h":472,"v":679},{"t":"l","h":483,"v":679}
],
"textR":[
{"t":"4.4e+08","h":692,"v":114},{"t":"4e+08","h":699,"v":131},{"t":"3.6e+08","h":692,"v":148},{"t":"3.2e+08","h":692,"v":165},{"t":"2.8e+08","h":692,"v":182},{"t":"2.4e+08","h":692,"v":199},{"t":"2e+08","h":699,"v":216},{"t":"1.6e+08","h":692,"v":233},{"t":"1.2e+08","h":692,"v":250},{"t":"8e+07","h":699,"v":267},{"t":"4e+07","h":699,"v":284},{"t":"0","h":709,"v":302},
{"t":"-7.0245","h":714,"v":315},{"t":"0","h":768,"v":450},{"t":"7.0245","h":810,"v":587},{"t":"48.679","h":871,"v":596},{"t":"57.628","h":1041,"v":528},{"t":"66.577","h":1224,"v":460},
{"t":"P","h":670,"v":166},{"t":"r","h":670,"v":177},{"t":"e","h":670,"v":188},{"t":"s","h":670,"v":198},{"t":"s","h":670,"v":208},{"t":"u","h":670,"v":218},{"t":"r","h":670,"v":228},{"t":"e","h":670,"v":239},
{"t":"l","h":701,"v":408},{"t":"o","h":707,"v":418},{"t":"n","h":711,"v":427},{"t":"g","h":716,"v":437},{"t":"i","h":719,"v":446},{"t":"t","h":723,"v":454},{"t":"u","h":728,"v":463},{"t":"d","h":733,"v":473},{"t":"i","h":736,"v":482},{"t":"n","h":741,"v":491},{"t":"a","h":745,"v":501},{"t":"l","h":749,"v":509},
{"t":"l","h":1027,"v":553},{"t":"a","h":1035,"v":552},{"t":"t","h":1043,"v":547},{"t":"e","h":1052,"v":545},{"t":"r","h":1059,"v":542},{"t":"a","h":1067,"v":539},{"t":"l","h":1075,"v":536}
]
},
"encoding":{
"x":{"field":"h","type":"quantitative","scale":{"domain":[0,1265],"nice":false,"zero":false},"axis":null},
"y":{"field":"v","type":"quantitative","scale":{"domain":[696,0],"nice":false,"zero":false},"axis":null}
},
"layer":[
{"data":{"name":"panel"},"mark":{"type":"rect","color":"#2e2e5e"},"encoding":{"x2":{"field":"h2"},"y2":{"field":"v2"}}},
{"data":{"name":"baseBlack"},"mark":{"type":"line","order":null,"fill":"#000000","stroke":"#000000","strokeWidth":0.5},"encoding":{"detail":{"field":"b"}}},
{"data":{"name":"polys"},"mark":{"type":"line","order":null,"strokeWidth":0.6,"interpolate":"cardinal","tension":0.45},"encoding":{"detail":{"field":"b"},
"fill":{"field":"b","type":"nominal","legend":null,"scale":{"domain":["blue","maroon","amber","grey","cyan","magenta","dorange","green","yellow","red"],"range":["#0000ff","#5a0000","#ffb000","#a9a9a9","#00ffff","#ff00ff","#ff6600","#00ff00","#ffff00","#e00000"]}},
"stroke":{"field":"b","type":"nominal","legend":null,"scale":{"domain":["blue","maroon","amber","grey","cyan","magenta","dorange","green","yellow","red"],"range":["#0000ff","#5a0000","#ffb000","#a9a9a9","#00ffff","#ff00ff","#ff6600","#00ff00","#ffff00","#e00000"]}}}},
{"data":{"name":"wiresL"},"mark":{"type":"line","order":null,"stroke":"#000000","strokeOpacity":0.45,"strokeWidth":1.1,"interpolate":"cardinal","tension":0.4},"encoding":{"detail":{"field":"w"}}},
{"data":{"name":"gaps"},"mark":{"type":"line","order":null,"fill":"#ffffff","stroke":"#ffffff","strokeWidth":0.5,"interpolate":"cardinal","tension":0.5},"encoding":{"detail":{"field":"b"}}},
{"data":{"name":"axesL"},"mark":{"type":"line","order":null,"stroke":"#999999","strokeWidth":1.3},"encoding":{"detail":{"field":"w"}}},
{"data":{"name":"wiresR"},"mark":{"type":"line","order":null,"stroke":"#e8e8f2","strokeWidth":1},"encoding":{"detail":{"field":"w"}}},
{"data":{"name":"frame"},"mark":{"type":"line","order":null,"stroke":"#000000","strokeWidth":2},"encoding":{"detail":{"field":"w"}}},
{"data":{"name":"textL"},"mark":{"type":"text","font":"Liberation Sans","fontSize":8,"color":"#555555","align":"center","baseline":"middle"},"encoding":{"text":{"field":"t"}}},
{"data":{"name":"textR"},"mark":{"type":"text","font":"Liberation Sans","fontSize":8.5,"color":"#f0f0f5","align":"center","baseline":"middle"},"encoding":{"text":{"field":"t"}}}
]}
